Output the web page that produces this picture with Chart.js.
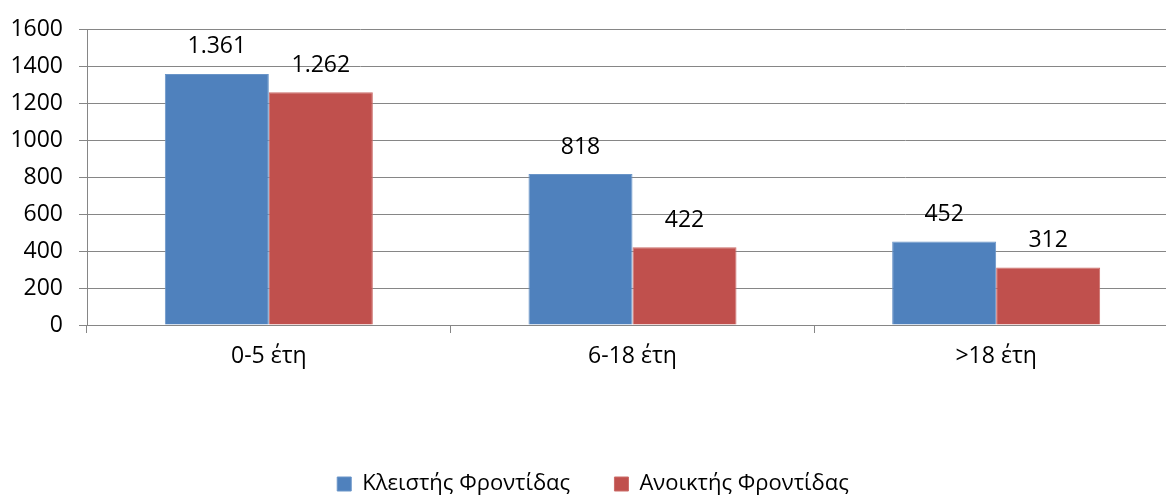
<!DOCTYPE html>
<html><head><meta charset="utf-8">
<script src="https://cdn.jsdelivr.net/npm/chart.js@4"></script>
<style>html,body{margin:0;padding:0;background:#fff;overflow:hidden;width:1166px;height:495px}#w{width:1178px;height:495px;position:relative}</style>
</head><body><div id="w"><canvas id="c"></canvas></div>
<script>
const categories = ["0-5 έτη", "6-18 έτη", ">18 έτη"];
const closedCare = [1361, 818, 452];
const openCare = [1262, 422, 312];
const seriesNames = ["Κλειστής Φροντίδας", "Ανοικτής Φροντίδας"];
const yTicks = [0, 200, 400, 600, 800, 1000, 1200, 1400, 1600];

const FONT = "'Open Sans', sans-serif";
const FS = 23;
const fmt = v => v.toLocaleString('el-GR');

const labelPlugin = {
  id: 'barLabels',
  afterDatasetsDraw(chart) {
    const ctx = chart.ctx;
    ctx.save();
    ctx.font = FS + "px " + FONT;
    ctx.fillStyle = '#000';
    ctx.textAlign = 'center';
    ctx.textBaseline = 'middle';
    chart.data.datasets.forEach((ds, i) => {
      chart.getDatasetMeta(i).data.forEach((bar, j) => {
        ctx.fillText(fmt(ds.data[j]), bar.x, bar.y - 27);
      });
    });
    ctx.restore();
  }
};

new Chart(document.getElementById('c'), {
  type: 'bar',
  data: {
    labels: categories,
    datasets: [
      { label: seriesNames[0], data: closedCare, backgroundColor: '#4F81BD', borderColor: '#6A95C8', borderWidth: 1 },
      { label: seriesNames[1], data: openCare, backgroundColor: '#C0504D', borderColor: '#CB6C69', borderWidth: 1 }
    ]
  },
  options: {
    responsive: true, maintainAspectRatio: false, animation: false,
    layout: { padding: { top: 6, left: 8, right: 0, bottom: -10 } },
    datasets: { bar: { categoryPercentage: 0.572, barPercentage: 1 } },
    plugins: {
      legend: {
        position: 'bottom',
        labels: {
          font: { size: 22, family: FONT }, color: '#000', boxWidth: 14, boxHeight: 14, padding: 10,
          generateLabels(chart) {
            const items = Chart.defaults.plugins.legend.labels.generateLabels(chart);
            items[0].text = items[0].text + '      ';
            return items;
          }
        },
        onClick: null
      },
      tooltip: { enabled: false }
    },
    scales: {
      x: {
        grid: { drawOnChartArea: false, drawTicks: true, tickLength: 8, color: '#868686', offset: true },
        border: { color: '#868686', width: 1 },
        ticks: { font: { size: FS, family: FONT }, color: '#000', padding: 10 },
        afterFit(s) { s.height = 138; }
      },
      y: {
        min: 0, max: 1600,
        afterBuildTicks(s) { s.ticks = yTicks.map(v => ({ value: v })); },
        afterFit(s) { s.width = 79; },
        grid: { color: '#868686', tickLength: 8 },
        border: { color: '#868686', width: 1 },
        ticks: { font: { size: FS, family: FONT }, color: '#000', padding: 16, callback: v => String(v) }
      }
    }
  },
  plugins: [labelPlugin]
});
</script></body></html>
